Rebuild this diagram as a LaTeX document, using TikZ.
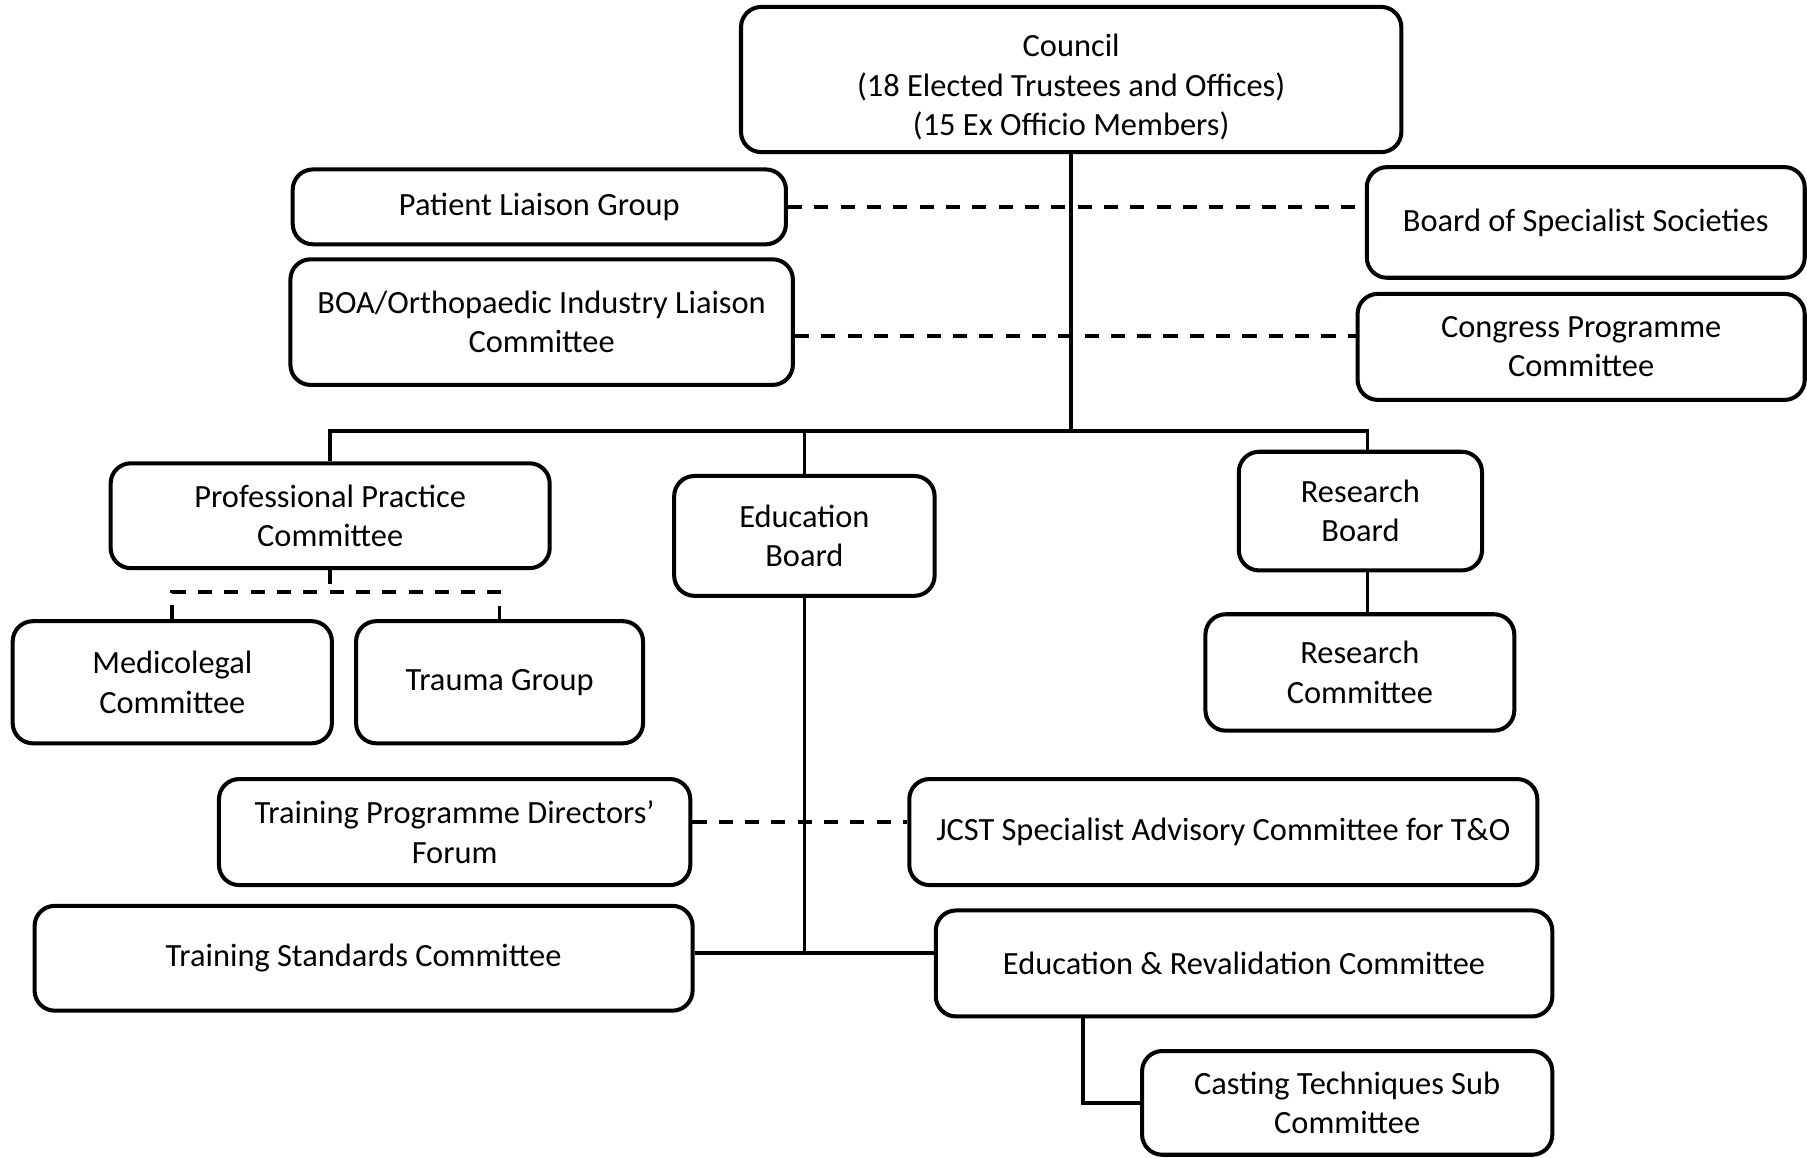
\documentclass[tikz,border=0pt]{standalone}
\usepackage{fontspec}
\setmainfont{Carlito}
\usetikzlibrary{positioning}
\tikzset{
  orgbox/.style={draw, line width=1pt, rounded corners=5pt, align=center, fill=white, inner sep=2pt,
    font=\fontsize{8}{9.7}\selectfont},
  orgtext/.style={align=center, inner sep=0pt, font=\fontsize{8}{9.7}\selectfont},
  link/.style={line width=0.9pt},
  dashlink/.style={line width=0.9pt, dash pattern=on 3.5pt off 3pt}
}

\begin{document}
\begin{tikzpicture}[x=1cm, y=-1cm]
  \useasboundingbox (0,0) rectangle (15.68,10.04);
  % top level
  \node[orgbox, minimum width=5.73cm, minimum height=1.26cm] (council) at (9.295,0.69) {};
  \node[orgtext] (counciltext) at (9.295,0.755) {Council\\(18 Elected Trustees and Offices)\\(15 Ex Officio Members)};
  \node[orgbox, minimum width=4.28cm, minimum height=0.65cm] (pliaison) at (4.68,1.795) {Patient Liaison Group};
  \node[orgbox, minimum width=3.80cm, minimum height=0.96cm] (bss) at (13.76,1.93) {Board of Specialist Societies};
  \node[orgbox, minimum width=4.36cm, minimum height=1.09cm] (boa) at (4.70,2.795) {BOA/Orthopaedic Industry Liaison\\Committee};
  \node[orgbox, minimum width=3.88cm, minimum height=0.92cm] (congress) at (13.72,3.01) {Congress Programme\\Committee};

  % boards
  \node[orgbox, minimum width=3.81cm, minimum height=0.91cm] (ppc) at (2.865,4.475) {Professional Practice\\Committee};
  \node[orgbox, minimum width=2.26cm, minimum height=1.04cm] (eduboard) at (6.98,4.65) {Education\\Board};
  \node[orgbox, minimum width=2.11cm, minimum height=1.03cm] (resboard) at (11.805,4.435) {Research\\Board};

  \node[orgbox, minimum width=2.77cm, minimum height=1.06cm] (medico) at (1.495,5.92) {Medicolegal\\Committee};
  \node[orgbox, minimum width=2.49cm, minimum height=1.06cm] (trauma) at (4.335,5.92) {Trauma Group};
  \node[orgbox, minimum width=2.68cm, minimum height=1.01cm] (rescom) at (11.80,5.835) {Research\\Committee};

  % education side
  \node[orgbox, minimum width=4.09cm, minimum height=0.92cm] (tpdf) at (3.945,7.22) {Training Programme Directors'\\Forum};
  \node[orgbox, minimum width=5.45cm, minimum height=0.92cm] (jcst) at (10.615,7.22) {JCST Specialist Advisory Committee for T\&O};
  \node[orgbox, minimum width=5.71cm, minimum height=0.91cm] (tsc) at (3.155,8.315) {Training Standards Committee};
  \node[orgbox, minimum width=5.35cm, minimum height=0.92cm] (erc) at (10.795,8.36) {Education \& Revalidation Committee};
  \node[orgbox, minimum width=3.56cm, minimum height=0.90cm] (casting) at (11.69,9.57) {Casting Techniques Sub\\Committee};

  \coordinate (bus) at (9.31,3.74);
  \coordinate (edujoin) at (6.98,8.27);

  % solid links
  \draw[link] (council.south) -- (council.south |- bus);
  \draw[link] (ppc.north) |- ([xshift=0.06cm]resboard.north |- bus) -- ([xshift=0.06cm]resboard.north);
  \draw[link] (eduboard.north) -- (eduboard.north |- bus);
  \draw[link] ([xshift=0.06cm]resboard.south) -- ([xshift=0.06cm]resboard.south |- rescom.north);
  \draw[link] (eduboard.south) -- (edujoin);
  \draw[link] (tsc.east |- edujoin) -- (erc.west |- edujoin);
  \draw[link] ([xshift=-1.395cm]erc.south) |- (casting.west);

  % dashed links
  \draw[dashlink] (pliaison.east) -- (pliaison.east -| bss.west);
  \draw[dashlink] ([yshift=-0.12cm]boa.east) -- ([yshift=-0.12cm]boa.east -| congress.west);
  \draw[dashlink] ([yshift=0.09cm]tpdf.east) -- ([yshift=0.09cm]jcst.west);
  \draw[dashlink] (ppc.south) -- ++(0,0.19) coordinate (ppcmid);
  \draw[dashlink] (medico.north) |- (ppcmid) -| (trauma.north);
\end{tikzpicture}
\end{document}
